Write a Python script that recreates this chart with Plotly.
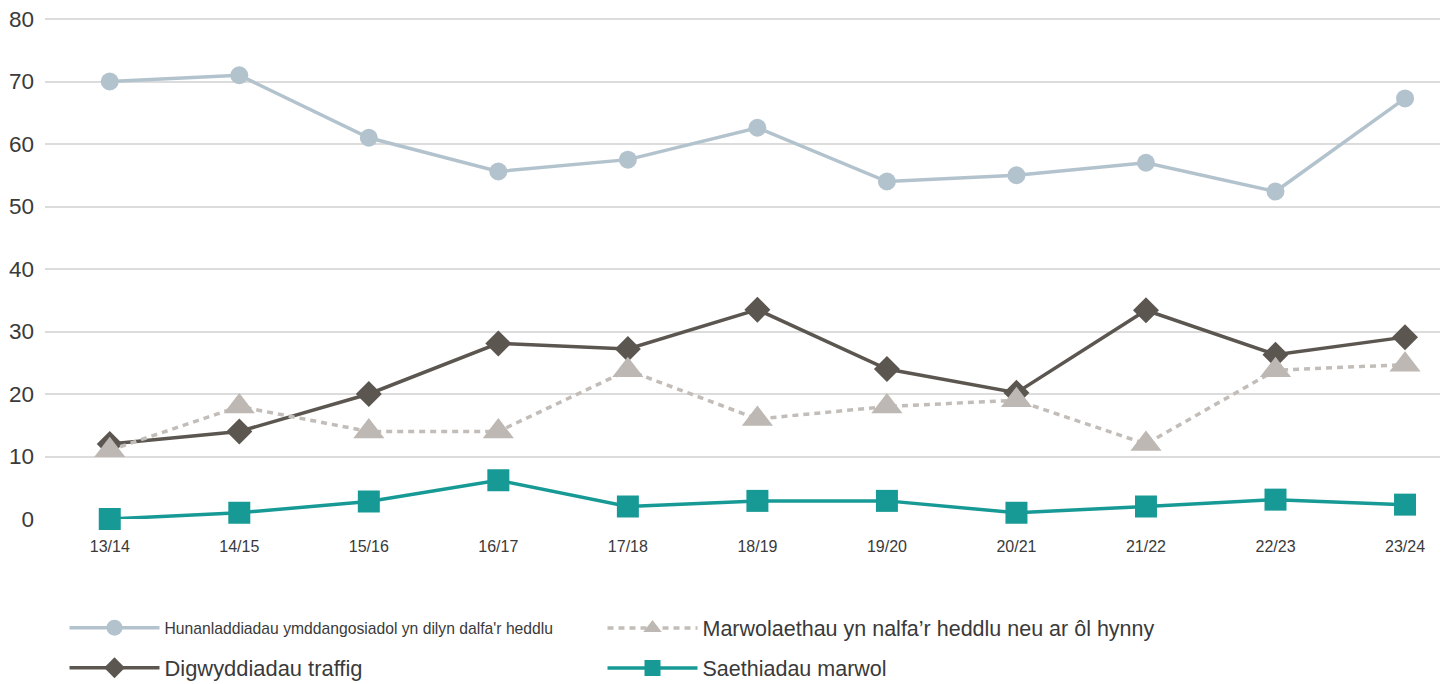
import plotly.graph_objects as go

years = ["13/14", "14/15", "15/16", "16/17", "17/18", "18/19", "19/20", "20/21", "21/22", "22/23", "23/24"]
hunanladdiadau = [70, 71, 61, 55.6, 57.5, 62.6, 54, 55, 57, 52.4, 67.3]
digwyddiadau = [12, 14, 20, 28.1, 27.2, 33.5, 24, 20.2, 33.4, 26.3, 29.1]
marwolaethau = [11, 18, 14, 14, 23.8, 16, 18, 19, 12, 23.8, 24.7]
saethiadau = [0, 1, 2.8, 6.2, 2, 2.9, 2.9, 1, 2, 3.1, 2.3]

names = {
    "hun": "Hunanladdiadau ymddangosiadol yn dilyn dalfa'r heddlu",
    "mar": "Marwolaethau yn nalfa\u2019r heddlu neu ar \u00f4l hynny",
    "dig": "Digwyddiadau traffig",
    "sae": "Saethiadau marwol",
}

FONT = "Liberation Sans, Arial, Helvetica, sans-serif"
TXT = "#3a3a3a"

fig = go.Figure()
fig.add_trace(go.Scatter(
    x=years, y=digwyddiadau, name=names["dig"], mode="lines+markers",
    line=dict(color="#5c5651", width=3.5),
    marker=dict(symbol="diamond", size=20, color="#5c5651"),
    cliponaxis=False, legend="legend3"))
fig.add_trace(go.Scatter(
    x=years, y=marwolaethau, name=names["mar"], mode="lines+markers",
    line=dict(color="#c2bdb8", width=3.5, dash="6px,5px"),
    marker=dict(symbol="triangle-up", size=27, color="#bdb8b3"),
    cliponaxis=False, legend="legend2"))
fig.add_trace(go.Scatter(
    x=years, y=saethiadau, name=names["sae"], mode="lines+markers",
    line=dict(color="#179a96", width=3.5),
    marker=dict(symbol="square", size=22, color="#179a96"),
    cliponaxis=False, legend="legend4"))
fig.add_trace(go.Scatter(
    x=years, y=hunanladdiadau, name=names["hun"], mode="lines+markers",
    line=dict(color="#b3c3cd", width=3.5),
    marker=dict(symbol="circle", size=18, color="#b3c3cd"),
    cliponaxis=False, legend="legend"))

YMAX = 80.48
L, R, T, B = 45, 3, 16, 165
W, H = 1443, 684
pw = W - L - R
ph = H - T - B


def px_x(px):
    return (px - L) / pw


def px_y(py):
    return (H - B - py) / ph


def leg(xpx, ypx, size, family=FONT):
    return dict(x=px_x(xpx), y=px_y(ypx), xanchor="left", yanchor="middle",
                bgcolor="rgba(0,0,0,0)", borderwidth=0, itemwidth=90,
                font=dict(family=family, size=size, color=TXT))


fig.update_layout(
    width=W, height=H,
    margin=dict(l=L, r=R, t=T, b=B, autoexpand=False),
    paper_bgcolor="white", plot_bgcolor="white",
    font=dict(family=FONT, color=TXT),
    xaxis=dict(type="category", range=[-0.5, 10.27], showgrid=False, showline=False,
               zeroline=False, ticks="", tickfont=dict(size=16, color=TXT),
               ticklabelstandoff=16, automargin=False),
    yaxis=dict(range=[0, YMAX], dtick=10, showgrid=True, gridcolor="#dcdcdc", gridwidth=1.5,
               zeroline=False, showline=False, ticks="", tickfont=dict(size=22.5, color=TXT),
               ticklabelstandoff=10, automargin=False),
    showlegend=True,
    legend=leg(64.5, 628, 15.7),
    legend2=leg(602.5, 628, 21.5),
    legend3=leg(64.5, 668, 21.9),
    legend4=leg(602.5, 668, 21.5),
)

fig.write_html("out.html", config={"displayModeBar": False},
               post_script="document.body.style.margin='0px';")
